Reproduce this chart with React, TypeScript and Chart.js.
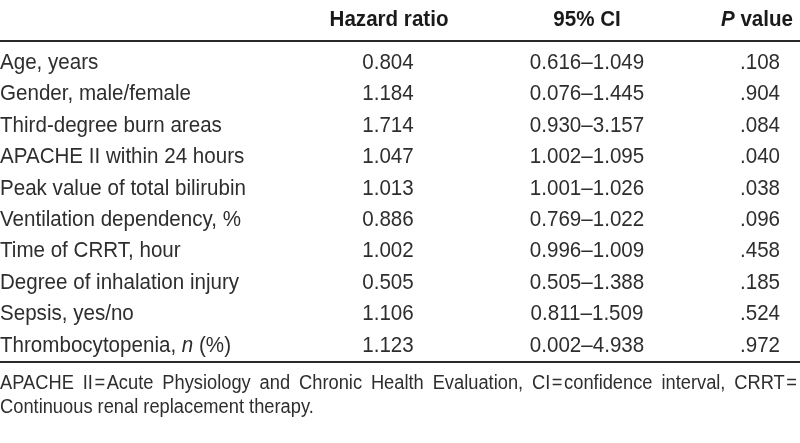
import { useEffect, useRef } from "react";
import { Chart, registerables } from "chart.js";

Chart.register(...registerables);

// ---- data ----
const variables = [
  "Age, years",
  "Gender, male/female",
  "Third-degree burn areas",
  "APACHE II within 24 hours",
  "Peak value of total bilirubin",
  "Ventilation dependency, %",
  "Time of CRRT, hour",
  "Degree of inhalation injury",
  "Sepsis, yes/no",
  "Thrombocytopenia, *n* (%)",
];
const hazardRatios = [0.804, 1.184, 1.714, 1.047, 1.013, 0.886, 1.002, 0.505, 1.106, 1.123];
const ciLower = [0.616, 0.076, 0.93, 1.002, 1.001, 0.769, 0.996, 0.505, 0.811, 0.002];
const ciUpper = [1.049, 1.445, 3.157, 1.095, 1.026, 1.022, 1.009, 1.388, 1.509, 4.938];
const pValues = [".108", ".904", ".084", ".040", ".038", ".096", ".458", ".185", ".524", ".972"];
const columnHeaders = ["Hazard ratio", "95% CI", "*P* value"];
const footnoteLine1 = [
  "APACHE",
  "II\u200a=\u200aAcute",
  "Physiology",
  "and",
  "Chronic",
  "Health",
  "Evaluation,",
  "CI\u200a=\u200aconfidence",
  "interval,",
  "CRRT\u200a=",
];
const footnoteLine2 = "Continuous renal replacement therapy.";

const TEXT = "#2e2e2e";
const HEAD = "#1a1a1a";
const COL_X = [388, 587, 760];
const HEAD_X = [389, 587, 757];

type Seg = { t: string; it: boolean };
function parse(s: string): Seg[] {
  const parts = s.split("*");
  return parts.map((t, i) => ({ t, it: i % 2 === 1 })).filter((p) => p.t.length);
}

function pickFamily(ctx: CanvasRenderingContext2D) {
  ctx.font = '20px "Liberation Sans Narrow", monospace';
  const a = ctx.measureText("Thrombocytopenia abc").width;
  ctx.font = "20px monospace";
  const b = ctx.measureText("Thrombocytopenia abc").width;
  if (Math.abs(a - b) > 0.5) return '"Liberation Sans Narrow"';
  return '"Liberation Sans", Arial, sans-serif';
}

const tablePlugin = {
  id: "tableText",
  afterDraw(chart: any) {
    const ctx: CanvasRenderingContext2D = chart.ctx;
    const yScale = chart.scales.y;
    const fam = pickFamily(ctx);
    const font = (size: number, bold: boolean, it: boolean) =>
      `${it ? "italic " : ""}${bold ? "bold " : ""}${size}px ${fam}`;
    const SIZE = 22.5;

    // horizontal condensing factor so the longest label spans ~230px
    let w0 = 0;
    for (const s of parse(variables[9])) {
      ctx.font = font(SIZE, false, s.it);
      w0 += ctx.measureText(s.t).width;
    }
    const sx = Math.min(1, 231 / w0);

    const segWidth = (segs: Seg[], size: number, bold: boolean) => {
      let w = 0;
      for (const s of segs) {
        ctx.font = font(size, bold, s.it);
        w += ctx.measureText(s.t).width * sx;
      }
      return w;
    };
    const drawSegs = (
      str: string,
      x: number,
      y: number,
      align: "left" | "center",
      size: number,
      bold: boolean
    ) => {
      const segs = parse(str);
      const total = segWidth(segs, size, bold);
      let cx = align === "center" ? x - total / 2 : x;
      for (const s of segs) {
        ctx.font = font(size, bold, s.it);
        const w = ctx.measureText(s.t).width * sx;
        ctx.save();
        ctx.translate(cx, y);
        ctx.scale(sx, 1);
        ctx.fillText(s.t, 0, 0);
        ctx.restore();
        cx += w;
      }
    };

    ctx.save();
    ctx.textBaseline = "middle";
    ctx.textAlign = "left";

    // header
    ctx.fillStyle = HEAD;
    const headY = 20;
    columnHeaders.forEach((h, i) => drawSegs(h, HEAD_X[i], headY, "center", SIZE, true));

    // rules
    ctx.strokeStyle = "#2a2a2a";
    ctx.lineWidth = 2;
    const top = chart.chartArea.top;
    const bottom = chart.chartArea.bottom;
    ctx.beginPath();
    ctx.moveTo(0, top - 6);
    ctx.lineTo(800, top - 6);
    ctx.moveTo(0, bottom + 1);
    ctx.lineTo(800, bottom + 1);
    ctx.stroke();

    // rows
    ctx.fillStyle = TEXT;
    variables.forEach((v, i) => {
      const y = yScale.getPixelForValue(i);
      drawSegs(v, 0, y, "left", SIZE, false);
      drawSegs(hazardRatios[i].toFixed(3), COL_X[0], y, "center", SIZE, false);
      drawSegs(
        `${ciLower[i].toFixed(3)}\u2013${ciUpper[i].toFixed(3)}`,
        COL_X[1],
        y,
        "center",
        SIZE,
        false
      );
      drawSegs(pValues[i], COL_X[2], y, "center", SIZE, false);
    });

    // footnote (justified first line)
    const fy1 = bottom + 22;
    const fy2 = bottom + 46;
    const fsize = 20;
    const widths = footnoteLine1.map((w) => segWidth(parse(w), fsize, false));
    const sum = widths.reduce((a, b) => a + b, 0);
    const gap = (797 - sum) / (footnoteLine1.length - 1);
    let fx = 0;
    footnoteLine1.forEach((w, i) => {
      drawSegs(w, fx, fy1, "left", fsize, false);
      fx += widths[i] + gap;
    });
    drawSegs(footnoteLine2, 0, fy2, "left", fsize, false);
    ctx.restore();
  },
};

export default function App() {
  const ref = useRef<HTMLCanvasElement | null>(null);
  useEffect(() => {
    document.body.style.margin = "0";
    if (!ref.current) return;
    const chart = new Chart(ref.current, {
      type: "bar",
      data: {
        labels: variables,
        datasets: [
          {
            label: "Hazard ratio",
            data: hazardRatios,
            backgroundColor: "rgba(0,0,0,0)",
            borderWidth: 0,
          },
        ],
      },
      options: {
        indexAxis: "y",
        animation: false,
        responsive: false,
        maintainAspectRatio: false,
        events: [],
        layout: { padding: { top: 47, bottom: 82, left: 0, right: 0 } },
        plugins: { legend: { display: false }, tooltip: { enabled: false } },
        scales: {
          x: { display: false, min: 0, max: 6 },
          y: { display: false, offset: true },
        },
      },
      plugins: [tablePlugin],
    });
    return () => chart.destroy();
  }, []);
  return (
    <div style={{ width: 800, height: 443, background: "#fff" }}>
      <canvas ref={ref} width={800} height={443} />
    </div>
  );
}
